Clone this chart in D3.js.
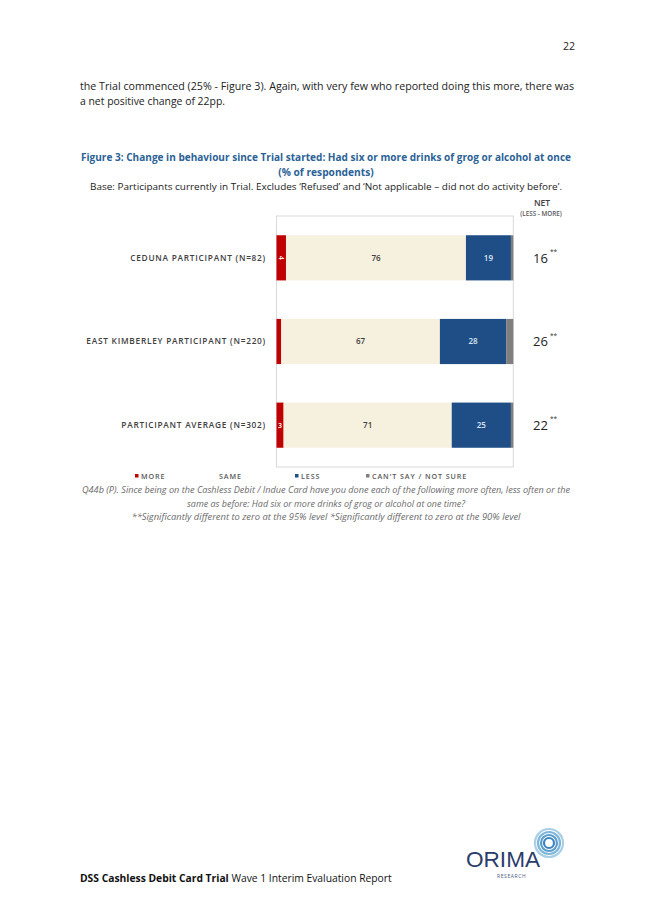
<!DOCTYPE html>
<html><head><meta charset="utf-8">
<script src="https://cdn.jsdelivr.net/npm/d3@7/dist/d3.min.js"></script>
<style>
html,body{margin:0;padding:0;background:#fff;}
svg{display:block;}
</style></head>
<body>
<svg id="c" width="653" height="923"></svg>
<script>
const categories = ["CEDUNA PARTICIPANT (N=82)", "EAST KIMBERLEY PARTICIPANT (N=220)", "PARTICIPANT AVERAGE (N=302)"];
const seriesNames = ["MORE", "SAME", "LESS", "CAN'T SAY / NOT SURE"];
const moreVals = [4, 2, 3];
const sameVals = [76, 67, 71];
const lessVals = [19, 28, 25];
const cantVals = [1, 3, 1];
const netVals = [16, 26, 22];
const netSig = ["**", "**", "**"];
const colors = ["#c00000", "#f6f0de", "#1f4e87", "#7f7f7f"];
const labelColors = ["#ffffff", "#404040", "#dce6f2", "#ffffff"];

const svg = d3.select("#c");
const F = "'Open Sans', 'Noto Sans', sans-serif";

// page number
svg.append("text").attr("x", 575).attr("y", 50).attr("text-anchor", "end")
  .attr("font-family", F).attr("font-size", 10.5).attr("fill", "#222").text("22");

// body text
svg.append("text").attr("x", 80).attr("y", 90).attr("font-family", F).attr("font-size", 10.5)
  .attr("fill", "#222").attr("textLength", 494).attr("lengthAdjust", "spacingAndGlyphs")
  .text("the Trial commenced (25% - Figure 3).  Again, with very few who reported doing this more, there was");
svg.append("text").attr("x", 80).attr("y", 105).attr("font-family", F).attr("font-size", 10.5)
  .attr("fill", "#222").attr("textLength", 145).attr("lengthAdjust", "spacingAndGlyphs")
  .text("a net positive change of 22pp.");

// title
svg.append("text").attr("x", 326).attr("y", 161).attr("text-anchor", "middle").attr("font-family", F)
  .attr("font-size", 10.2).attr("font-weight", "bold").attr("fill", "#2b6296")
  .attr("textLength", 490).attr("lengthAdjust", "spacingAndGlyphs")
  .text("Figure 3: Change in behaviour since Trial started: Had six or more drinks of grog or alcohol at once");
svg.append("text").attr("x", 326).attr("y", 176).attr("text-anchor", "middle").attr("font-family", F)
  .attr("font-size", 10.2).attr("font-weight", "bold").attr("fill", "#2b6296")
  .text("(% of respondents)");
svg.append("text").attr("x", 326).attr("y", 190).attr("text-anchor", "middle").attr("font-family", F)
  .attr("font-size", 9.3).attr("fill", "#222").attr("textLength", 472).attr("lengthAdjust", "spacingAndGlyphs")
  .text("Base: Participants currently in Trial. Excludes ‘Refused’ and ‘Not applicable – did not do activity before’.");

// NET header
svg.append("text").attr("x", 542).attr("y", 206).attr("text-anchor", "middle").attr("font-family", F)
  .attr("font-size", 8.5).attr("font-weight", "600").attr("fill", "#404040").text("NET");
svg.append("text").attr("x", 541).attr("y", 216).attr("text-anchor", "middle").attr("font-family", F)
  .attr("font-size", 6.3).attr("font-weight", "600").attr("fill", "#595959").text("(LESS - MORE)");

// plot frame
const x0 = 276.5, x1 = 513.3, yTop = 216, yBot = 467;
svg.append("rect").attr("x", x0).attr("y", yTop).attr("width", x1 - x0).attr("height", yBot - yTop)
  .attr("fill", "none").attr("stroke", "#d9d9d9").attr("stroke-width", 1);

const x = d3.scaleLinear().domain([0, 100]).range([x0, x1]);
const y = d3.scaleBand().domain(categories).range([yTop, yBot]).paddingInner(0.46).paddingOuter(0.23);

const rows = categories.map((c, i) => {
  const vals = [moreVals[i], sameVals[i], lessVals[i], cantVals[i]];
  let acc = 0;
  return vals.map((v, k) => { const s = acc; acc += v; return {cat: c, k, v, s, e: acc, i}; });
});

const g = svg.append("g");
rows.forEach(r => {
  g.selectAll(null).data(r).enter().append("rect")
    .attr("x", d => x(d.s)).attr("y", d => y(d.cat))
    .attr("width", d => x(d.e) - x(d.s)).attr("height", y.bandwidth())
    .attr("fill", d => colors[d.k]);
  g.selectAll(null).data(r.filter(d => d.k < 3 && d.v >= 3)).enter().append("text")
    .attr("transform", d => {
      const cx = (x(d.s) + x(d.e)) / 2, cy = y(d.cat) + y.bandwidth() / 2;
      return (d.k === 0 && d.v >= 4) ? `translate(${cx},${cy}) rotate(90)` : `translate(${cx},${cy})`;
    })
    .attr("text-anchor", "middle").attr("dy", "0.35em")
    .attr("font-family", F).attr("font-size", d => d.k === 0 ? 7 : 8).attr("font-weight", "600")
    .attr("fill", d => labelColors[d.k]).text(d => d.v);
});

// category labels
svg.selectAll(".cl").data(categories).enter().append("text")
  .attr("x", 266).attr("y", d => y(d) + y.bandwidth() / 2).attr("dy", "0.35em")
  .attr("text-anchor", "end").attr("font-family", F).attr("font-size", 8.3).attr("font-weight", "600")
  .attr("letter-spacing", 0.75).attr("fill", "#404040").text(d => d);

// net values
categories.forEach((c, i) => {
  const cy = y(c) + y.bandwidth() / 2;
  svg.append("text").attr("x", 533).attr("y", cy).attr("dy", "0.38em").attr("font-family", F)
    .attr("font-size", 13).attr("fill", "#222").text(netVals[i]);
  svg.append("text").attr("x", 550).attr("y", cy - 4).attr("font-family", F)
    .attr("font-size", 6.5).attr("fill", "#333").text(netSig[i]);
});

// legend
const legX = [135, 219, 295, 366];
seriesNames.forEach((n, k) => {
  if (k !== 1) svg.append("rect").attr("x", legX[k]).attr("y", 474).attr("width", 3.5).attr("height", 3.5).attr("fill", colors[k]);
  svg.append("text").attr("x", legX[k] + (k === 1 ? 0 : 6)).attr("y", 479).attr("font-family", F)
    .attr("font-size", 7.2).attr("font-weight", "600").attr("letter-spacing", 0.9).attr("fill", "#595959").text(n);
});

// caption
const cap = [
  ["Q44b (P). Since being on the Cashless Debit / Indue Card have you done each of the following more often, less often or the", 493, 488],
  ["same as before: Had six or more drinks of grog or alcohol at one time?", 507, 278],
  ["**Significantly different to zero at the 95% level *Significantly different to zero at the 90% level", 520, 389]
];
cap.forEach(([t, yy, w]) => {
  svg.append("text").attr("x", 326).attr("y", yy).attr("text-anchor", "middle").attr("font-family", F)
    .attr("font-size", 8.2).attr("font-style", "italic").attr("fill", "#6b6b6b")
    .attr("textLength", w).attr("lengthAdjust", "spacingAndGlyphs").text(t);
});

// footer
const ft = svg.append("text").attr("x", 80).attr("y", 882).attr("font-family", F).attr("font-size", 10.3).attr("fill", "#111");
ft.append("tspan").attr("font-weight", "bold").text("DSS Cashless Debit Card Trial");
ft.append("tspan").text(" Wave 1 Interim Evaluation Report");

// logo
const lg = svg.append("g");
[14, 11, 8, 5].forEach((r, i) => {
  lg.append("circle").attr("cx", 549).attr("cy", 843).attr("r", r)
    .attr("fill", "none").attr("stroke", ["#a9cfe6", "#7fb5da", "#5a9ccc", "#3d84bf"][i]).attr("stroke-width", 2.2);
});
lg.append("text").attr("x", 466).attr("y", 867).attr("font-family", "'Liberation Sans', sans-serif")
  .attr("font-size", 22).attr("fill", "#2b3c6b").attr("textLength", 74).attr("lengthAdjust", "spacingAndGlyphs").text("ORIMA");
lg.append("text").attr("x", 497).attr("y", 878).attr("font-family", F)
  .attr("font-size", 5).attr("fill", "#4a5a80").attr("letter-spacing", 0.6).text("RESEARCH");
</script>
</body></html>
